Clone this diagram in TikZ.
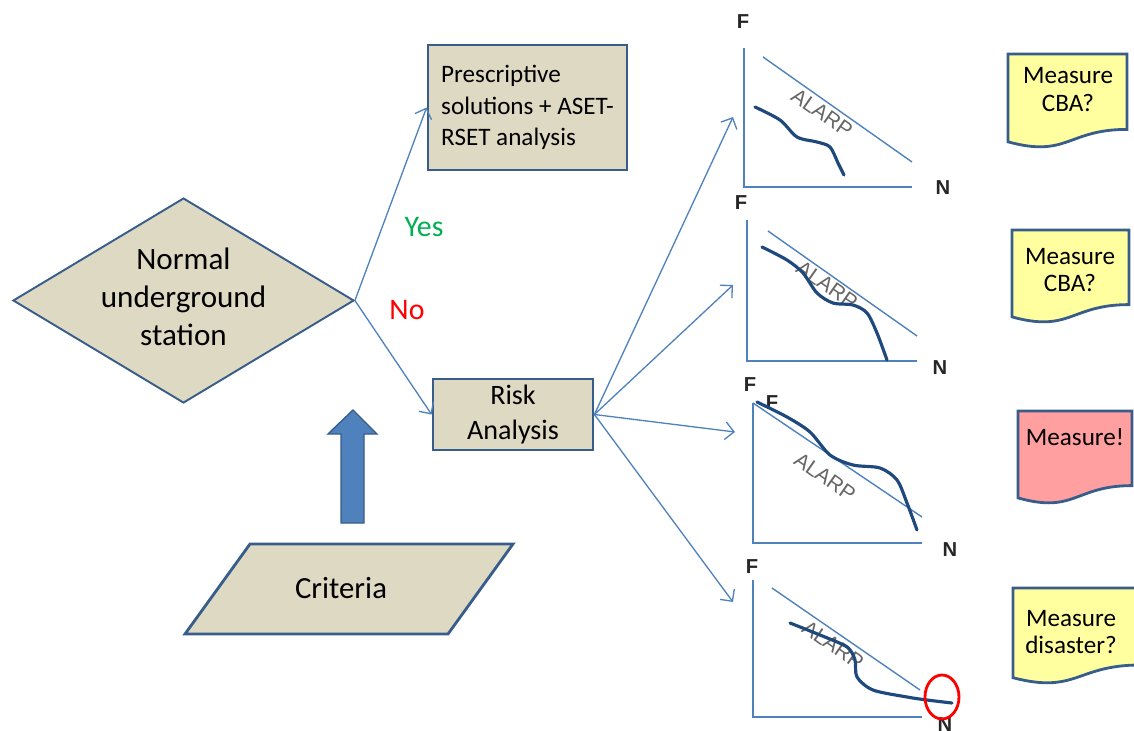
\documentclass[tikz,border=0pt]{standalone}
\usepackage{fontspec}
\setmainfont{Carlito}
\newfontfamily\arialfont{Liberation Sans}
\usetikzlibrary{shapes.geometric,arrows.meta}
\definecolor{beige}{HTML}{DDD9C3}
\definecolor{bordblue}{HTML}{385D8A}
\definecolor{linkblue}{HTML}{4F81BD}
\definecolor{curveblue}{HTML}{1F497D}
\definecolor{docyellow}{HTML}{FFFF9F}
\definecolor{docred}{HTML}{FF9F9F}
\definecolor{yesgreen}{HTML}{00B050}
\begin{document}
\begin{tikzpicture}[x=0.02cm,y=-0.02cm,
  link/.style={draw=linkblue, line width=0.75pt, -{Straight Barb[length=5pt,width=10pt]}},
  box/.style={draw=bordblue, fill=beige, line width=1.6pt},
  axisline/.style={draw=linkblue, line width=1.1pt},
  alarpline/.style={draw=linkblue, line width=0.8pt},
  fncurve/.style={draw=curveblue, line width=1.8pt, line cap=round},
  alarptext/.style={font=\arialfont\fontsize{12}{14}\selectfont, text=black!60, rotate=-35, inner sep=0pt},
  axlabel/.style={font=\arialfont\bfseries\fontsize{11.5}{13}\selectfont, text=black!85, inner sep=0pt},
  docbox/.style={draw=bordblue, line width=1.6pt},
  doctext/.style={font=\fontsize{14.3}{15.8}\selectfont, align=center, inner sep=0pt}
]
\useasboundingbox (0,0) rectangle (1134,731);

% decision diamond
\node[diamond, draw=bordblue, fill=beige, line width=1.1pt, minimum width=6.82cm, minimum height=4.1cm, inner sep=0pt] (station) at (183.5,300.5) {};
\node[font=\fontsize{17.7}{21.8}\selectfont, align=center, inner sep=0pt] (stationtxt) at (183.5,297) {Normal\\underground\\station};

% boxes
\node[box, minimum width=3.98cm, minimum height=2.5cm, align=left, inner sep=0pt, font=\fontsize{14.3}{17.8}\selectfont] (presc) at (527.5,107.5) {Prescriptive\\solutions + ASET-\\RSET analysis};
\node[box, minimum width=3.2cm, minimum height=1.42cm, align=center, inner sep=0pt, font=\fontsize{16}{19.8}\selectfont] (risk) at (513,414.5) {Risk\\Analysis};

% criteria parallelogram
\draw[box] (250,544) -- (513,544) -- (448,634) -- (185,634) -- cycle;
\node[font=\fontsize{17.5}{21}\selectfont, inner sep=0pt] (criteria) at (341,588) {Criteria};

% block arrow
\draw[fill=linkblue, draw=bordblue, line width=0.8pt, line join=miter] (353,410) -- (377,434) -- (364,434) -- (364,523) -- (341,523) -- (341,434) -- (328,434) -- cycle;

% yes / no
\node[text=yesgreen, font=\fontsize{17}{20}\selectfont, inner sep=0pt] (yes) at (424,227) {Yes};
\node[text=red, font=\fontsize{17}{20}\selectfont, inner sep=0pt] (no) at (407,310) {No};

% connectors
\draw[link] (station.east) -- (presc.west);
\draw[link] (station.east) -- (risk.west);
\coordinate (c1) at (733,117);
\coordinate (c2) at (733,285);
\coordinate (c3) at (735,432);
\coordinate (c4) at (733,602);
\draw[link] (risk.east) -- (c1);
\draw[link] (risk.east) -- (c2);
\draw[link] (risk.east) -- (c3);
\draw[link] (risk.east) -- (c4);

% chart 1
\draw[axisline] (744,48) -- (744,187) -- (912,187);
\draw[alarpline] (763,57) -- (912,162);
\node[alarptext] (alarp1) at (822,113) {ALARP};
\draw[fncurve] plot[smooth] coordinates {(755,107) (780,120) (797,137) (817,142) (830,147) (838,163) (844,175)};
\node[axlabel] (f1) at (743,22) {F};
\node[axlabel] (n1) at (943,188) {N};

% chart 2
\draw[axisline] (747,220) -- (747,361) -- (917,361);
\draw[alarpline] (768,231) -- (917,336);
\node[alarptext] (alarp2) at (827,285) {ALARP};
\draw[fncurve] plot[smooth] coordinates {(762,247) (787,260) (803,273) (817,293) (833,303) (853,305) (867,313) (877,333) (887,360)};
\node[axlabel] (f2) at (741,203) {F};
\node[axlabel] (n2) at (940,368) {N};

% chart 3
\draw[axisline] (753,403) -- (753,543) -- (922,543);
\draw[alarpline] (753,403) -- (922,517);
\node[alarptext] (alarp3) at (825,477) {ALARP};
\node[axlabel] (f3b) at (772,403) {F};
\draw[fncurve] plot[smooth] coordinates {(757,402) (787,417) (810,432) (830,455) (853,465) (880,468) (897,480) (907,503) (917,530)};
\node[axlabel] (f3) at (750,385) {F};
\node[axlabel] (n3) at (950,550) {N};

% chart 4
\draw[axisline] (753,580) -- (753,717) -- (922,717);
\draw[alarpline] (772,588) -- (920,690);
\node[alarptext] (alarp4) at (833,645) {ALARP};
\draw[fncurve] plot[smooth] coordinates {(790,623) (820,635) (847,647) (855,660) (857,677) (873,690) (907,697) (927,700) (952,703)};
\node[axlabel] (f4) at (752,567) {F};
\node[axlabel] (n4) at (945,725) {N};
\draw[red, line width=1.6pt] (942,697) ellipse [x radius=0.34cm, y radius=0.44cm];

% documents
\draw[docbox, fill=docyellow] (1008,54) -- (1127,54) -- (1127,129.4) .. controls (1067.5,129.4) and (1067.5,158.1) .. (1008,141.8) -- cycle;
\node[doctext] (doc1) at (1068,89.5) {Measure\\CBA?};
\draw[docbox, fill=docyellow] (1012,230) -- (1129,230) -- (1129,304.6) .. controls (1070.5,304.6) and (1070.5,333) .. (1012,316.9) -- cycle;
\node[doctext] (doc2) at (1070,270) {Measure\\CBA?};
\draw[docbox, fill=docred] (1018,411) -- (1132,411) -- (1132,485.6) .. controls (1075,485.6) and (1075,514) .. (1018,497.9) -- cycle;
\node[doctext] (doc3) at (1075,437) {Measure!};
\draw[docbox, fill=docyellow] (1013,588) -- (1140,588) -- (1140,665) .. controls (1076.5,665) and (1076.5,694.3) .. (1013,677.7) -- cycle;
\node[doctext] (doc4) at (1071,632) {Measure\\disaster?};
\end{tikzpicture}
\end{document}
